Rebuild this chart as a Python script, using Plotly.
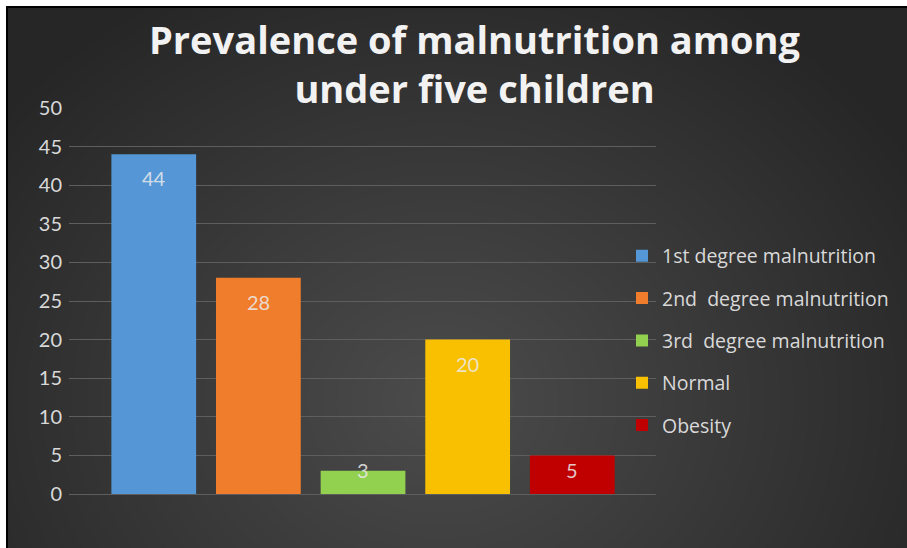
import base64, struct, zlib
import numpy as np
import plotly.graph_objects as go

# ---------------- data ----------------
categories = ["1st degree malnutrition", "2nd\u00a0 degree malnutrition",
              "3rd\u00a0 degree malnutrition", "Normal", "Obesity"]
values = [44, 28, 3, 20, 5]
colors = ["#5597d6", "#f07d2c", "#92d050", "#f8c000", "#c00000"]
y_ticks = [0, 5, 10, 15, 20, 25, 30, 35, 40, 45, 50]
title_lines = ["Prevalence of malnutrition among", "under five children"]

# ---------------- layout constants ----------------
W, H = 907, 548
ML, MR, MT, MB = 69, 251, 108, 54
PW, PH = W - ML - MR, H - MT - MB
YMAX = 50
px_per_unit = PH / YMAX

# ---------------- background image (radial gradient) ----------------
def make_png(arr):
    h, w, _ = arr.shape
    raw = b"".join(b"\x00" + arr[r].tobytes() for r in range(h))
    def chunk(t, d):
        return struct.pack(">I", len(d)) + t + d + struct.pack(">I", zlib.crc32(t + d) & 0xffffffff)
    return (b"\x89PNG\r\n\x1a\n" + chunk(b"IHDR", struct.pack(">IIBBBBB", w, h, 8, 2, 0, 0, 0))
            + chunk(b"IDAT", zlib.compress(raw, 9)) + chunk(b"IEND", b""))

yy, xx = np.mgrid[0:H, 0:W].astype(float)
cx, cy = 440.0, 400.0
d = np.sqrt(((xx - cx) / 1.0) ** 2 + ((yy - cy) / 0.85) ** 2)
t = np.clip(d / 560.0, 0, 1)
inner, outer = 76.0, 38.0
g = inner + (outer - inner) * t
img = np.stack([g, g, g], axis=-1)
img[:6, :, :] = 255
img[:, :6, :] = 255
img[6:8, 6:, :] = 0
img[6:, 6:8, :] = 0
img = np.clip(img, 0, 255).astype(np.uint8)
bg_uri = "data:image/png;base64," + base64.b64encode(make_png(img)).decode()

# ---------------- figure ----------------
fig = go.Figure()
for cat, val, col in zip(categories, values, colors):
    fig.add_trace(go.Bar(
        x=[cat], y=[val], name=cat, width=0.81,
        marker=dict(color=col, line=dict(width=0)),
        legendgroup=cat, hoverinfo="x+y",
    ))

# data labels ("inside end")
off = 24 / px_per_unit
for cat, val in zip(categories, values):
    fig.add_annotation(
        x=cat, y=max(val - off, off), text=str(val), showarrow=False,
        font=dict(family="Lato, Calibri, sans-serif", size=20, color="rgba(235,235,235,0.85)"),
        xanchor="center", yanchor="middle",
    )

# title (two lines)
fig.add_annotation(
    text="<br>".join(title_lines), showarrow=False,
    xref="paper", yref="paper",
    x=(475 - ML) / PW, y=1 + (MT - 11) / PH, xanchor="center", yanchor="top",
    align="center",
    font=dict(family="Open Sans, sans-serif", size=38, color="#f2f2f2", weight="bold"),
)

fig.add_layout_image(
    source=bg_uri, xref="paper", yref="paper",
    x=-ML / PW, y=1 + MT / PH, sizex=W / PW, sizey=H / PH,
    xanchor="left", yanchor="top", sizing="stretch", layer="below",
)

fig.update_layout(
    width=W, height=H,
    margin=dict(l=ML, r=MR, t=MT, b=MB, autoexpand=False),
    paper_bgcolor="#ffffff", plot_bgcolor="rgba(0,0,0,0)",
    barmode="overlay",
    showlegend=True,
    legend=dict(
        x=(662 - 40 - ML) / PW, xanchor="left",
        y=(494 - 340.5) / PH, yanchor="middle",
        font=dict(family="Open Sans, sans-serif", size=19.5, color="#d9d9d9"),
        bgcolor="rgba(0,0,0,0)", tracegroupgap=14,
        itemsizing="constant",
    ),
    xaxis=dict(
        type="category", range=[-0.81, 4.80], showticklabels=False,
        showgrid=False, zeroline=False, showline=False, ticks="",
    ),
    yaxis=dict(
        range=[0, YMAX], tickvals=y_ticks, showgrid=True,
        gridcolor="#5e5e5e", gridwidth=1, zeroline=True, zerolinecolor="#5e5e5e",
        zerolinewidth=1, showline=False, ticks="", ticklabelstandoff=6,
        tickfont=dict(family="Lato, Calibri, sans-serif", size=20, color="#d9d9d9"),
    ),
)

fig.write_html("out.html")
